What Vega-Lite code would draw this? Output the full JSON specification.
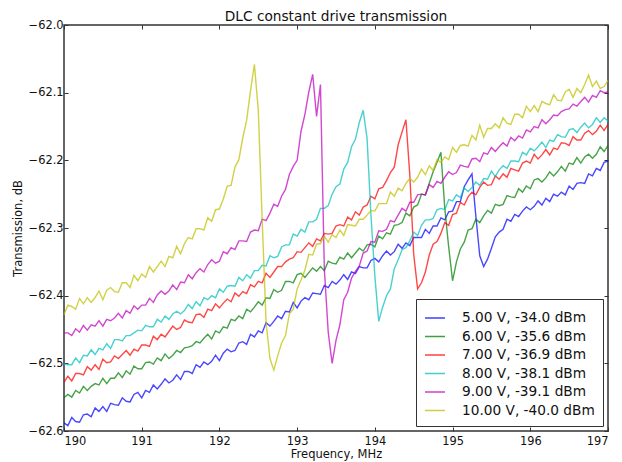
{
"$schema": "https://vega.github.io/schema/vega-lite/v6.json",
"width": 544, "height": 406,
"autosize": {"type": "none"},
"padding": {"left": 64, "top": 25, "right": 14, "bottom": 31},
"background": "white",
"title": {"text": "DLC constant drive transmission", "font": "DejaVu Sans", "fontSize": 13.7, "fontWeight": "normal", "color": "#111", "anchor": "middle", "offset": -5},
"config": {
 "view": {"stroke": "#333", "strokeWidth": 1.5},
 "axis": {"grid": false, "domain": false, "labelFont": "DejaVu Sans", "titleFont": "DejaVu Sans", "labelFontSize": 11.4, "titleFontSize": 11.5, "titleFontWeight": "normal", "labelColor": "#111", "titleColor": "#111", "tickColor": "#333", "tickSize": -4, "tickWidth": 1}
},
"data": {"values": [
{"x":190,"a":-62.588,"b":-62.551,"c":-62.528,"d":-62.501,"e":-62.455,"f":-62.428},
{"x":190.05,"a":-62.592,"b":-62.546,"c":-62.519,"d":-62.502,"e":-62.455,"f":-62.414},
{"x":190.1,"a":-62.580,"b":-62.550,"c":-62.526,"d":-62.502,"e":-62.459,"f":-62.416},
{"x":190.15,"a":-62.586,"b":-62.540,"c":-62.515,"d":-62.492,"e":-62.449,"f":-62.420},
{"x":190.2,"a":-62.587,"b":-62.544,"c":-62.515,"d":-62.499,"e":-62.454,"f":-62.404},
{"x":190.25,"a":-62.576,"b":-62.534,"c":-62.517,"d":-62.488,"e":-62.444,"f":-62.412},
{"x":190.3,"a":-62.575,"b":-62.540,"c":-62.505,"d":-62.489,"e":-62.451,"f":-62.403},
{"x":190.35,"a":-62.579,"b":-62.534,"c":-62.510,"d":-62.480,"e":-62.443,"f":-62.410},
{"x":190.4,"a":-62.566,"b":-62.530,"c":-62.502,"d":-62.487,"e":-62.445,"f":-62.403},
{"x":190.45,"a":-62.571,"b":-62.532,"c":-62.509,"d":-62.478,"e":-62.437,"f":-62.393},
{"x":190.5,"a":-62.564,"b":-62.522,"c":-62.494,"d":-62.480,"e":-62.445,"f":-62.406},
{"x":190.55,"a":-62.571,"b":-62.530,"c":-62.499,"d":-62.471,"e":-62.435,"f":-62.392},
{"x":190.6,"a":-62.559,"b":-62.522,"c":-62.498,"d":-62.478,"e":-62.437,"f":-62.388},
{"x":190.65,"a":-62.561,"b":-62.522,"c":-62.489,"d":-62.465,"e":-62.433,"f":-62.394},
{"x":190.7,"a":-62.562,"b":-62.514,"c":-62.493,"d":-62.465,"e":-62.426,"f":-62.395},
{"x":190.75,"a":-62.551,"b":-62.521,"c":-62.487,"d":-62.467,"e":-62.433,"f":-62.381},
{"x":190.8,"a":-62.556,"b":-62.511,"c":-62.481,"d":-62.459,"e":-62.422,"f":-62.381},
{"x":190.85,"a":-62.557,"b":-62.516,"c":-62.488,"d":-62.459,"e":-62.426,"f":-62.388},
{"x":190.9,"a":-62.546,"b":-62.504,"c":-62.479,"d":-62.455,"e":-62.415,"f":-62.370},
{"x":190.95,"a":-62.543,"b":-62.508,"c":-62.482,"d":-62.451,"e":-62.420,"f":-62.378},
{"x":191,"a":-62.551,"b":-62.508,"c":-62.473,"d":-62.452,"e":-62.414,"f":-62.368},
{"x":191.05,"a":-62.540,"b":-62.499,"c":-62.473,"d":-62.444,"e":-62.414,"f":-62.373},
{"x":191.1,"a":-62.543,"b":-62.498,"c":-62.475,"d":-62.446,"e":-62.404,"f":-62.357},
{"x":191.15,"a":-62.532,"b":-62.501,"c":-62.460,"d":-62.446,"e":-62.410,"f":-62.365},
{"x":191.2,"a":-62.538,"b":-62.492,"c":-62.465,"d":-62.435,"e":-62.399,"f":-62.357},
{"x":191.25,"a":-62.531,"b":-62.496,"c":-62.457,"d":-62.439,"e":-62.393,"f":-62.349},
{"x":191.3,"a":-62.523,"b":-62.486,"c":-62.461,"d":-62.430,"e":-62.398,"f":-62.357},
{"x":191.35,"a":-62.529,"b":-62.493,"c":-62.453,"d":-62.435,"e":-62.393,"f":-62.342},
{"x":191.4,"a":-62.525,"b":-62.488,"c":-62.445,"d":-62.427,"e":-62.384,"f":-62.344},
{"x":191.45,"a":-62.517,"b":-62.481,"c":-62.450,"d":-62.423,"e":-62.391,"f":-62.327},
{"x":191.5,"a":-62.524,"b":-62.484,"c":-62.447,"d":-62.427,"e":-62.380,"f":-62.338},
{"x":191.55,"a":-62.512,"b":-62.477,"c":-62.436,"d":-62.422,"e":-62.381,"f":-62.323},
{"x":191.6,"a":-62.512,"b":-62.476,"c":-62.439,"d":-62.413,"e":-62.369,"f":-62.314},
{"x":191.65,"a":-62.515,"b":-62.474,"c":-62.440,"d":-62.419,"e":-62.375,"f":-62.316},
{"x":191.7,"a":-62.502,"b":-62.468,"c":-62.428,"d":-62.409,"e":-62.366,"f":-62.301},
{"x":191.75,"a":-62.506,"b":-62.470,"c":-62.427,"d":-62.415,"e":-62.360,"f":-62.301},
{"x":191.8,"a":-62.498,"b":-62.463,"c":-62.432,"d":-62.403,"e":-62.365,"f":-62.303},
{"x":191.85,"a":-62.502,"b":-62.457,"c":-62.420,"d":-62.406,"e":-62.354,"f":-62.285},
{"x":191.9,"a":-62.497,"b":-62.464,"c":-62.422,"d":-62.400,"e":-62.347,"f":-62.290},
{"x":191.95,"a":-62.488,"b":-62.452,"c":-62.412,"d":-62.403,"e":-62.352,"f":-62.273},
{"x":192,"a":-62.496,"b":-62.455,"c":-62.418,"d":-62.390,"e":-62.349,"f":-62.272},
{"x":192.05,"a":-62.485,"b":-62.446,"c":-62.411,"d":-62.395,"e":-62.335,"f":-62.257},
{"x":192.1,"a":-62.479,"b":-62.448,"c":-62.405,"d":-62.386,"e":-62.338,"f":-62.238},
{"x":192.15,"a":-62.483,"b":-62.435,"c":-62.409,"d":-62.385,"e":-62.329,"f":-62.237},
{"x":192.2,"a":-62.481,"b":-62.437,"c":-62.396,"d":-62.386,"e":-62.332,"f":-62.210},
{"x":192.25,"a":-62.470,"b":-62.430,"c":-62.401,"d":-62.373,"e":-62.319,"f":-62.199},
{"x":192.3,"a":-62.468,"b":-62.434,"c":-62.394,"d":-62.378,"e":-62.319,"f":-62.167},
{"x":192.35,"a":-62.472,"b":-62.420,"c":-62.397,"d":-62.369,"e":-62.320,"f":-62.141},
{"x":192.4,"a":-62.457,"b":-62.424,"c":-62.384,"d":-62.374,"e":-62.306,"f":-62.097},
{"x":192.45,"a":-62.461,"b":-62.417,"c":-62.387,"d":-62.363,"e":-62.303,"f":-62.058},
{"x":192.5,"a":-62.452,"b":-62.409,"c":-62.379,"d":-62.363,"e":-62.304,"f":-62.126},
{"x":192.55,"a":-62.455,"b":-62.414,"c":-62.381,"d":-62.355,"e":-62.287,"f":-62.287},
{"x":192.6,"a":-62.440,"b":-62.403,"c":-62.367,"d":-62.356,"e":-62.289,"f":-62.439},
{"x":192.65,"a":-62.445,"b":-62.404,"c":-62.373,"d":-62.341,"e":-62.278,"f":-62.493},
{"x":192.7,"a":-62.438,"b":-62.391,"c":-62.365,"d":-62.344,"e":-62.265,"f":-62.510},
{"x":192.75,"a":-62.430,"b":-62.395,"c":-62.357,"d":-62.342,"e":-62.268,"f":-62.489},
{"x":192.8,"a":-62.434,"b":-62.392,"c":-62.357,"d":-62.328,"e":-62.253,"f":-62.470},
{"x":192.85,"a":-62.423,"b":-62.379,"c":-62.350,"d":-62.325,"e":-62.243,"f":-62.459},
{"x":192.9,"a":-62.424,"b":-62.379,"c":-62.346,"d":-62.325,"e":-62.221,"f":-62.427},
{"x":192.95,"a":-62.410,"b":-62.381,"c":-62.344,"d":-62.309,"e":-62.209,"f":-62.420},
{"x":193,"a":-62.418,"b":-62.369,"c":-62.335,"d":-62.312,"e":-62.200,"f":-62.390},
{"x":193.05,"a":-62.408,"b":-62.367,"c":-62.336,"d":-62.302,"e":-62.157,"f":-62.377},
{"x":193.1,"a":-62.403,"b":-62.373,"c":-62.329,"d":-62.306,"e":-62.132,"f":-62.362},
{"x":193.15,"a":-62.406,"b":-62.366,"c":-62.322,"d":-62.291,"e":-62.099,"f":-62.339},
{"x":193.2,"a":-62.396,"b":-62.359,"c":-62.327,"d":-62.291,"e":-62.073,"f":-62.340},
{"x":193.25,"a":-62.397,"b":-62.364,"c":-62.316,"d":-62.287,"e":-62.135,"f":-62.324},
{"x":193.3,"a":-62.398,"b":-62.357,"c":-62.319,"d":-62.271,"e":-62.088,"f":-62.323},
{"x":193.35,"a":-62.385,"b":-62.363,"c":-62.308,"d":-62.271,"e":-62.361,"f":-62.312},
{"x":193.4,"a":-62.388,"b":-62.349,"c":-62.309,"d":-62.267,"e":-62.454,"f":-62.321},
{"x":193.45,"a":-62.379,"b":-62.352,"c":-62.308,"d":-62.250,"e":-62.500,"f":-62.310},
{"x":193.5,"a":-62.383,"b":-62.353,"c":-62.297,"d":-62.239,"e":-62.466,"f":-62.314},
{"x":193.55,"a":-62.377,"b":-62.343,"c":-62.295,"d":-62.235,"e":-62.443,"f":-62.303},
{"x":193.6,"a":-62.369,"b":-62.346,"c":-62.297,"d":-62.213,"e":-62.406,"f":-62.311},
{"x":193.65,"a":-62.376,"b":-62.337,"c":-62.284,"d":-62.203,"e":-62.395,"f":-62.295},
{"x":193.7,"a":-62.365,"b":-62.344,"c":-62.288,"d":-62.180,"e":-62.374,"f":-62.296},
{"x":193.75,"a":-62.367,"b":-62.337,"c":-62.276,"d":-62.169,"e":-62.364,"f":-62.297},
{"x":193.8,"a":-62.357,"b":-62.330,"c":-62.281,"d":-62.144,"e":-62.356,"f":-62.287},
{"x":193.85,"a":-62.359,"b":-62.334,"c":-62.269,"d":-62.126,"e":-62.337,"f":-62.287},
{"x":193.9,"a":-62.359,"b":-62.325,"c":-62.266,"d":-62.168,"e":-62.334,"f":-62.281},
{"x":193.95,"a":-62.348,"b":-62.324,"c":-62.253,"d":-62.282,"e":-62.320,"f":-62.274},
{"x":194,"a":-62.345,"b":-62.328,"c":-62.257,"d":-62.371,"e":-62.321,"f":-62.275},
{"x":194.05,"a":-62.350,"b":-62.312,"c":-62.242,"d":-62.438,"e":-62.304,"f":-62.264},
{"x":194.1,"a":-62.341,"b":-62.316,"c":-62.240,"d":-62.417,"e":-62.305,"f":-62.264},
{"x":194.15,"a":-62.334,"b":-62.307,"c":-62.230,"d":-62.400,"e":-62.302,"f":-62.264},
{"x":194.2,"a":-62.340,"b":-62.309,"c":-62.218,"d":-62.390,"e":-62.289,"f":-62.247},
{"x":194.25,"a":-62.335,"b":-62.296,"c":-62.210,"d":-62.360,"e":-62.291,"f":-62.253},
{"x":194.3,"a":-62.324,"b":-62.295,"c":-62.177,"d":-62.347,"e":-62.281,"f":-62.241},
{"x":194.35,"a":-62.330,"b":-62.292,"c":-62.158,"d":-62.332,"e":-62.271,"f":-62.245},
{"x":194.4,"a":-62.322,"b":-62.278,"c":-62.140,"d":-62.329,"e":-62.275,"f":-62.234},
{"x":194.45,"a":-62.326,"b":-62.282,"c":-62.222,"d":-62.319,"e":-62.262,"f":-62.227},
{"x":194.5,"a":-62.314,"b":-62.269,"c":-62.339,"d":-62.306,"e":-62.262,"f":-62.232},
{"x":194.55,"a":-62.314,"b":-62.266,"c":-62.390,"d":-62.311,"e":-62.251,"f":-62.225},
{"x":194.6,"a":-62.314,"b":-62.250,"c":-62.381,"d":-62.296,"e":-62.250,"f":-62.213},
{"x":194.65,"a":-62.302,"b":-62.251,"c":-62.365,"d":-62.288,"e":-62.251,"f":-62.221},
{"x":194.7,"a":-62.308,"b":-62.234,"c":-62.340,"d":-62.288,"e":-62.236,"f":-62.208},
{"x":194.75,"a":-62.297,"b":-62.217,"c":-62.324,"d":-62.286,"e":-62.240,"f":-62.215},
{"x":194.8,"a":-62.297,"b":-62.203,"c":-62.320,"d":-62.273,"e":-62.231,"f":-62.199},
{"x":194.85,"a":-62.285,"b":-62.188,"c":-62.308,"d":-62.271,"e":-62.234,"f":-62.203},
{"x":194.9,"a":-62.288,"b":-62.271,"c":-62.292,"d":-62.273,"e":-62.225,"f":-62.195},
{"x":194.95,"a":-62.276,"b":-62.328,"c":-62.296,"d":-62.258,"e":-62.217,"f":-62.199},
{"x":195,"a":-62.275,"b":-62.378,"c":-62.280,"d":-62.260,"e":-62.221,"f":-62.181},
{"x":195.05,"a":-62.261,"b":-62.350,"c":-62.278,"d":-62.251,"e":-62.218,"f":-62.188},
{"x":195.1,"a":-62.261,"b":-62.331,"c":-62.262,"d":-62.255,"e":-62.207,"f":-62.178},
{"x":195.15,"a":-62.239,"b":-62.321,"c":-62.266,"d":-62.241,"e":-62.209,"f":-62.177},
{"x":195.2,"a":-62.229,"b":-62.303,"c":-62.254,"d":-62.246,"e":-62.210,"f":-62.179},
{"x":195.25,"a":-62.220,"b":-62.301,"c":-62.247,"d":-62.240,"e":-62.198,"f":-62.163},
{"x":195.3,"a":-62.283,"b":-62.287,"c":-62.251,"d":-62.232,"e":-62.197,"f":-62.170},
{"x":195.35,"a":-62.341,"b":-62.292,"c":-62.240,"d":-62.237,"e":-62.202,"f":-62.148},
{"x":195.4,"a":-62.357,"b":-62.282,"c":-62.232,"d":-62.227,"e":-62.189,"f":-62.166},
{"x":195.45,"a":-62.346,"b":-62.274,"c":-62.237,"d":-62.228,"e":-62.191,"f":-62.153},
{"x":195.5,"a":-62.330,"b":-62.278,"c":-62.236,"d":-62.216,"e":-62.181,"f":-62.153},
{"x":195.55,"a":-62.313,"b":-62.265,"c":-62.223,"d":-62.224,"e":-62.187,"f":-62.146},
{"x":195.6,"a":-62.306,"b":-62.267,"c":-62.228,"d":-62.214,"e":-62.180,"f":-62.152},
{"x":195.65,"a":-62.302,"b":-62.265,"c":-62.220,"d":-62.208,"e":-62.174,"f":-62.137},
{"x":195.7,"a":-62.287,"b":-62.252,"c":-62.225,"d":-62.212,"e":-62.179,"f":-62.145},
{"x":195.75,"a":-62.290,"b":-62.254,"c":-62.212,"d":-62.201,"e":-62.166,"f":-62.147},
{"x":195.8,"a":-62.280,"b":-62.255,"c":-62.214,"d":-62.201,"e":-62.171,"f":-62.132},
{"x":195.85,"a":-62.283,"b":-62.242,"c":-62.216,"d":-62.202,"e":-62.164,"f":-62.132},
{"x":195.9,"a":-62.275,"b":-62.247,"c":-62.204,"d":-62.188,"e":-62.167,"f":-62.137},
{"x":195.95,"a":-62.269,"b":-62.238,"c":-62.201,"d":-62.192,"e":-62.155,"f":-62.120},
{"x":196,"a":-62.273,"b":-62.242,"c":-62.204,"d":-62.182,"e":-62.158,"f":-62.128},
{"x":196.05,"a":-62.268,"b":-62.229,"c":-62.191,"d":-62.186,"e":-62.150,"f":-62.119},
{"x":196.1,"a":-62.260,"b":-62.227,"c":-62.198,"d":-62.180,"e":-62.152,"f":-62.128},
{"x":196.15,"a":-62.266,"b":-62.232,"c":-62.192,"d":-62.173,"e":-62.140,"f":-62.113},
{"x":196.2,"a":-62.256,"b":-62.226,"c":-62.184,"d":-62.181,"e":-62.146,"f":-62.116},
{"x":196.25,"a":-62.261,"b":-62.217,"c":-62.192,"d":-62.170,"e":-62.140,"f":-62.118},
{"x":196.3,"a":-62.250,"b":-62.223,"c":-62.182,"d":-62.172,"e":-62.133,"f":-62.103},
{"x":196.35,"a":-62.253,"b":-62.217,"c":-62.184,"d":-62.162,"e":-62.134,"f":-62.111},
{"x":196.4,"a":-62.247,"b":-62.209,"c":-62.174,"d":-62.165,"e":-62.128,"f":-62.112},
{"x":196.45,"a":-62.251,"b":-62.216,"c":-62.175,"d":-62.166,"e":-62.125,"f":-62.099},
{"x":196.5,"a":-62.238,"b":-62.204,"c":-62.178,"d":-62.155,"e":-62.124,"f":-62.095},
{"x":196.55,"a":-62.243,"b":-62.206,"c":-62.165,"d":-62.153,"e":-62.117,"f":-62.107},
{"x":196.6,"a":-62.234,"b":-62.196,"c":-62.170,"d":-62.159,"e":-62.120,"f":-62.094},
{"x":196.65,"a":-62.233,"b":-62.204,"c":-62.170,"d":-62.151,"e":-62.113,"f":-62.100},
{"x":196.7,"a":-62.234,"b":-62.195,"c":-62.160,"d":-62.145,"e":-62.107,"f":-62.088},
{"x":196.75,"a":-62.220,"b":-62.191,"c":-62.156,"d":-62.152,"e":-62.114,"f":-62.074},
{"x":196.8,"a":-62.223,"b":-62.197,"c":-62.162,"d":-62.147,"e":-62.104,"f":-62.091},
{"x":196.85,"a":-62.212,"b":-62.191,"c":-62.157,"d":-62.137,"e":-62.107,"f":-62.083},
{"x":196.9,"a":-62.215,"b":-62.180,"c":-62.148,"d":-62.144,"e":-62.097,"f":-62.094},
{"x":196.95,"a":-62.203,"b":-62.187,"c":-62.156,"d":-62.137,"e":-62.100,"f":-62.091},
{"x":197,"a":-62.201,"b":-62.178,"c":-62.147,"d":-62.142,"e":-62.099,"f":-62.082}
]},
"transform": [{"fold": ["a", "b", "c", "d", "e", "f"], "as": ["s", "v"]}],
"layer": [
 {"mark": {"type": "line", "strokeWidth": 1.4, "opacity": 0.72},
  "encoding": {
   "x": {"field": "x", "type": "quantitative", "scale": {"domain": [190, 197], "nice": false, "zero": false},
         "axis": {"values": [190, 191, 192, 193, 194, 195, 196, 197], "format": "d", "title": "Frequency, MHz", "labelPadding": 8, "titleY": 23, "titleBaseline": "middle"}},
   "y": {"field": "v", "type": "quantitative", "scale": {"domain": [-62.6, -62.0], "nice": false, "zero": false},
         "axis": {"values": [-62.6, -62.5, -62.4, -62.3, -62.2, -62.1, -62.0], "format": ".1f", "title": "Transmission, dB", "labelPadding": 5, "titleX": -46, "titleY": 203, "titleAngle": 270, "titleAlign": "center", "titleBaseline": "middle"}},
   "color": {"field": "s", "type": "nominal",
     "scale": {"domain": ["a", "b", "c", "d", "e", "f"], "range": ["#0000ff", "#008000", "#ff0000", "#00bfbf", "#bf00bf", "#bfbf00"]},
     "legend": {"title": null, "orient": "none", "legendX": 352, "legendY": 274, "direction": "vertical",
       "labelExpr": "datum.label == 'a' ? '5.00 V, -34.0 dBm' : datum.label == 'b' ? '6.00 V, -35.6 dBm' : datum.label == 'c' ? '7.00 V, -36.9 dBm' : datum.label == 'd' ? '8.00 V, -38.1 dBm' : datum.label == 'e' ? '9.00 V, -39.1 dBm' : '10.00 V, -40.0 dBm'",
       "symbolType": "stroke", "symbolSize": 400, "symbolStrokeWidth": 1.5, "symbolOpacity": 0.75,
       "labelFont": "DejaVu Sans", "labelFontSize": 13.7, "labelColor": "#111", "labelOffset": 16,
       "fillColor": "white", "strokeColor": "#333", "padding": 8, "rowPadding": 0.5, "cornerRadius": 0}}
  }},
 {"mark": {"type": "line", "opacity": 0},
  "encoding": {
   "x": {"field": "x", "type": "quantitative", "axis": {"orient": "top", "values": [190, 191, 192, 193, 194, 195, 196, 197], "labels": false, "title": null}},
   "y": {"field": "v", "type": "quantitative", "axis": {"orient": "right", "values": [-62.6, -62.5, -62.4, -62.3, -62.2, -62.1, -62.0], "labels": false, "title": null}},
   "detail": {"field": "s"}
  }}
],
"resolve": {"axis": {"x": "independent", "y": "independent"}}
}
